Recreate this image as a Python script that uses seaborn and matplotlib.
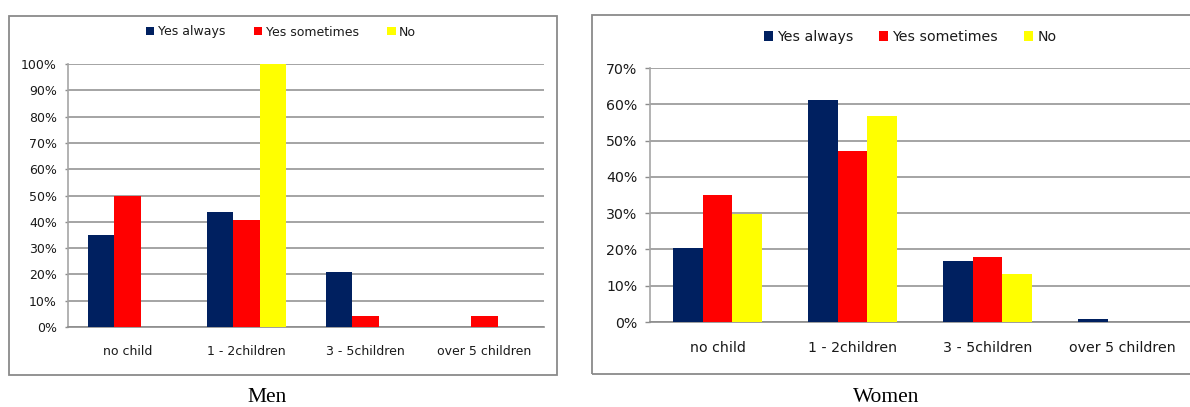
import matplotlib
matplotlib.use("Agg")
import matplotlib.pyplot as plt
import seaborn as sns
import pandas as pd
from matplotlib.ticker import PercentFormatter, FixedLocator
from matplotlib.patches import Rectangle

# ---------------- data ----------------
categories = ["no child", "1 - 2children", "3 - 5children", "over 5 children"]
responses = ["Yes always", "Yes sometimes", "No"]

men_yes_always = [35, 43.8, 21, 0]
men_yes_sometimes = [50, 40.7, 4.3, 4.3]
men_no = [0, 100, 0, 0]

women_yes_always = [20.5, 61.2, 16.9, 0.9]
women_yes_sometimes = [35.1, 47.1, 17.8, 0]
women_no = [29.9, 56.8, 13.3, 0]

men_ticks = list(range(0, 101, 10))
women_ticks = list(range(0, 71, 10))

palette = {"Yes always": "#002060", "Yes sometimes": "#FF0000", "No": "#FFFF00"}


def long_df(ya, ys, no):
    rows = []
    for series, vals in zip(responses, [ya, ys, no]):
        for c, v in zip(categories, vals):
            rows.append({"category": c, "response": series, "value": v})
    return pd.DataFrame(rows)


men_df = long_df(men_yes_always, men_yes_sometimes, men_no)
women_df = long_df(women_yes_always, women_yes_sometimes, women_no)

sns.set_style("white")
plt.rcParams["font.family"] = ["DejaVu Sans"]

W, H = 1190, 407
fig = plt.figure(figsize=(W / 100, H / 100), dpi=100)

TEXT = "#1a1a1a"
GRID = "#8c8c8c"
SPINE = "#a6a6a6"


def px_rect(x0, x1, ytop, ybot):
    return [x0 / W, (H - ybot) / H, (x1 - x0) / W, (ybot - ytop) / H]


def draw(ax, df, ticks, fs, ytick_len, xpad, ypad):
    sns.barplot(data=df, x="category", y="value", hue="response",
                order=categories, hue_order=responses, palette=palette,
                saturation=1, width=0.66, gap=0, errorbar=None,
                linewidth=0, ax=ax, zorder=3)
    handles, labels = ax.get_legend_handles_labels()
    if ax.get_legend() is not None:
        ax.get_legend().remove()
    ax.set_xlim(-0.5, len(categories) - 0.5)
    ax.set_ylim(0, ticks[-1])
    ax.set_yticks(ticks)
    ax.yaxis.set_major_formatter(PercentFormatter(xmax=100, decimals=0))
    ax.set_xticks(range(len(categories)))
    ax.set_xticklabels(categories)
    ax.xaxis.set_minor_locator(FixedLocator([i - 0.5 for i in range(len(categories) + 1)]))
    ax.tick_params(axis="x", which="major", length=0, pad=xpad, labelsize=fs, labelcolor=TEXT)
    ax.tick_params(axis="x", which="minor", length=4, width=1, color=SPINE, direction="out")
    ax.tick_params(axis="y", which="major", length=ytick_len, width=1, color=GRID,
                   direction="out", left=True, pad=ypad, labelsize=fs, labelcolor=TEXT)
    ax.set_xlabel("")
    ax.set_ylabel("")
    ax.yaxis.grid(True, color=GRID, linewidth=1.1, zorder=0)
    ax.set_axisbelow(True)
    for s in ["top", "right"]:
        ax.spines[s].set_visible(False)
    ax.spines["left"].set_color(SPINE)
    ax.spines["left"].set_linewidth(1.2)
    ax.spines["bottom"].set_color(GRID)
    ax.spines["bottom"].set_linewidth(1.2)
    return handles, labels


# Left: Men
ax1 = fig.add_axes(px_rect(68, 544, 64, 327))
h1, l1 = draw(ax1, men_df, men_ticks, 9, 2.5, 13, 5.5)
# Right: Women
ax2 = fig.add_axes(px_rect(650, 1190, 68, 322))
h2, l2 = draw(ax2, women_df, women_ticks, 10.2, 3.5, 13.5, 5.5)

# Legends
fig.legend(h1, l1, loc="center", bbox_to_anchor=(281 / W, (H - 32) / H), ncol=3,
           frameon=False, fontsize=9, handlelength=0.65, handleheight=0.65,
           handletextpad=0.3, columnspacing=2.3, labelcolor=TEXT, borderaxespad=0)
fig.legend(h2, l2, loc="center", bbox_to_anchor=(910 / W, (H - 37) / H), ncol=3,
           frameon=False, fontsize=10.2, handlelength=0.65, handleheight=0.65,
           handletextpad=0.3, columnspacing=1.8, labelcolor=TEXT, borderaxespad=0)

# Chart frames
FRAME = "#8a8a8a"
fig.patches.append(Rectangle((9 / W, (H - 375) / H), (557 - 9) / W, (375 - 16) / H,
                             transform=fig.transFigure, fill=False, edgecolor=FRAME,
                             linewidth=1.3, zorder=-1))
fig.patches.append(Rectangle((592 / W, (H - 374) / H), (1200 - 592) / W, (374 - 15) / H,
                             transform=fig.transFigure, fill=False, edgecolor=FRAME,
                             linewidth=1.3, zorder=-1))

# Captions
fig.text(267 / W, (H - 398) / H, "Men", ha="center", va="center",
         family=["Liberation Serif", "DejaVu Serif"], fontsize=15.5, color="black")
fig.text(886 / W, (H - 398) / H, "Women", ha="center", va="center",
         family=["Liberation Serif", "DejaVu Serif"], fontsize=15.5, color="black")

fig.savefig("out.png", dpi=100)
